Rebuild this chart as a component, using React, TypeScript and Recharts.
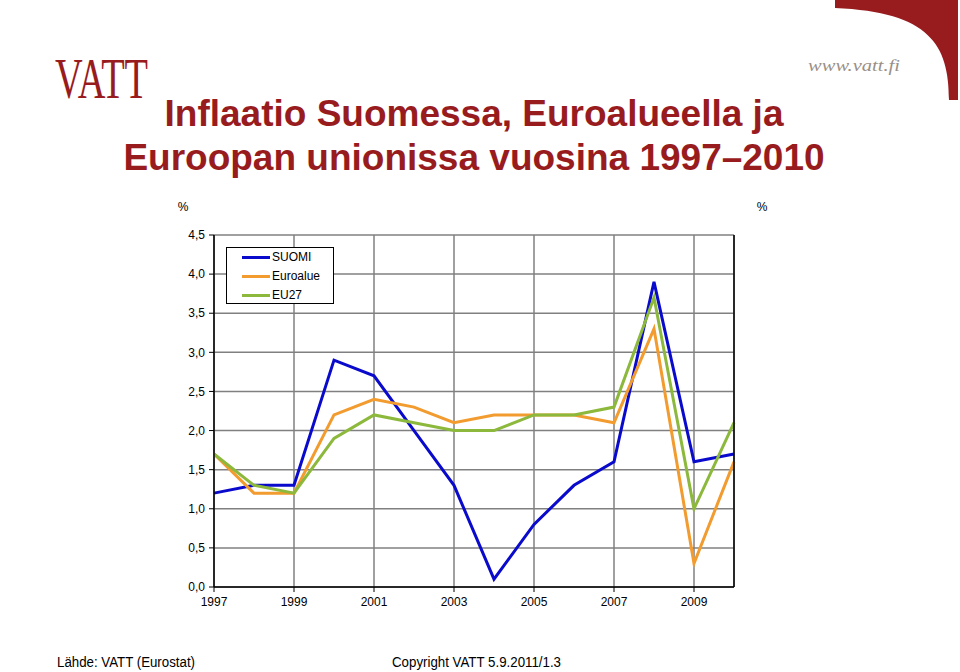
import React from "react";
import { LineChart, Line, XAxis, YAxis, CartesianGrid, Legend } from "recharts";

const years = [1997, 1998, 1999, 2000, 2001, 2002, 2003, 2004, 2005, 2006, 2007, 2008, 2009, 2010];
const suomi = [1.2, 1.3, 1.3, 2.9, 2.7, 2.0, 1.3, 0.1, 0.8, 1.3, 1.6, 3.9, 1.6, 1.7];
const euroalue = [1.7, 1.2, 1.2, 2.2, 2.4, 2.3, 2.1, 2.2, 2.2, 2.2, 2.1, 3.3, 0.3, 1.6];
const eu27 = [1.7, 1.3, 1.2, 1.9, 2.2, 2.1, 2.0, 2.0, 2.2, 2.2, 2.3, 3.7, 1.0, 2.1];
const xTicks = [1997, 1999, 2001, 2003, 2005, 2007, 2009];
const yTicks = [0, 0.5, 1, 1.5, 2, 2.5, 3, 3.5, 4, 4.5];

const seriesNames = ["SUOMI", "Euroalue", "EU27"];
const colors = ["#0A0ACC", "#F29B2E", "#8CB83C"];
const RED = "#981B1E";
const FONT = "'Liberation Sans', Arial, sans-serif";

const data = years.map((y, i) => ({ year: y, SUOMI: suomi[i], Euroalue: euroalue[i], EU27: eu27[i] }));

const fmt = (v: number) => v.toFixed(1).replace(".", ",");

const LegendBox = (props: any) => {
  const payload = [...(props.payload || [])].sort(
    (a: any, b: any) => seriesNames.indexOf(a.value) - seriesNames.indexOf(b.value)
  );
  return (
    <div
      style={{
        width: 108,
        height: 57,
        border: "1px solid #000",
        background: "#fff",
        boxSizing: "border-box",
        fontFamily: FONT,
        fontSize: 12,
        paddingTop: 0,
      }}
    >
      {payload.map((p: any) => (
        <div key={p.value} style={{ display: "flex", alignItems: "center", height: 19 }}>
          <div style={{ width: 28, height: 3, background: p.color, marginLeft: 15, marginRight: 2 }} />
          <span style={{ color: "#000", lineHeight: "19px" }}>{p.value}</span>
        </div>
      ))}
    </div>
  );
};

export default function App() {
  return (
    <div style={{ position: "absolute", left: 0, top: 0, width: 960, height: 672, background: "#fff", overflow: "hidden" }}>
      <LineChart
        width={960}
        height={672}
        data={data}
        margin={{ top: 235, right: 0, bottom: 55, left: 0 }}
      >
        <CartesianGrid yAxisId="l" stroke="#808080" strokeWidth={1.5} />
        <XAxis
          dataKey="year"
          type="number"
          domain={[1997, 2010]}
          ticks={xTicks}
          interval={0}
          height={30}
          axisLine={{ stroke: "#000", strokeWidth: 1.5 }}
          tickLine={{ stroke: "#000" }}
          tickSize={5}
          tickMargin={5}
          tick={{ fill: "#000", fontSize: 12, fontFamily: FONT }}
        />
        <YAxis
          yAxisId="l"
          orientation="left"
          width={214}
          domain={[0, 4.5]}
          ticks={yTicks}
          interval={0}
          tickFormatter={fmt}
          axisLine={{ stroke: "#000", strokeWidth: 1.5 }}
          tickLine={{ stroke: "#000" }}
          tickSize={5}
          tickMargin={4}
          tick={{ fill: "#000", fontSize: 12, fontFamily: FONT }}
        />
        <YAxis
          yAxisId="r"
          orientation="right"
          width={226}
          domain={[0, 4.5]}
          ticks={yTicks}
          interval={0}
          tickFormatter={fmt}
          axisLine={{ stroke: "#000", strokeWidth: 1.5 }}
          tickLine={{ stroke: "#000" }}
          tickSize={4}
          tickMargin={3}
          tick={{ fill: "#000", fontSize: 12, fontFamily: FONT }}
        />
        <Legend
          layout="horizontal"
          verticalAlign="middle"
          align="center"
          content={<LegendBox />}
          wrapperStyle={{ position: "absolute", left: 226, top: 247, width: 108, height: 57 }}
        />
        {seriesNames.map((n, i) => (
          <Line
            key={n}
            yAxisId="l"
            dataKey={n}
            name={n}
            stroke={colors[i]}
            strokeWidth={3}
            dot={false}
            activeDot={false}
            type="linear"
            isAnimationActive={false}
          />
        ))}
      </LineChart>
      <svg
        width={960}
        height={672}
        style={{ position: "absolute", left: 0, top: 0, pointerEvents: "none" }}
      >
        <path d="M835,0 L958,0 L958,100 L949,100 C949,45 930,12 835,8 Z" fill={RED} />
        <text x={808} y={71} fontFamily="'Liberation Serif', serif" fontStyle="italic" fontSize={17} fill="#9A8F86" textLength={92} lengthAdjust="spacingAndGlyphs">
          www.vatt.fi
        </text>
        <text x={55} y={98} fontFamily="'Liberation Serif', serif" fontSize={56} fill={RED} textLength={93} lengthAdjust="spacingAndGlyphs">
          VATT
        </text>
        <text x={474} y={125.5} textAnchor="middle" fontFamily={FONT} fontWeight="bold" fontSize={37} fill={RED}>
          Inflaatio Suomessa, Euroalueella ja
        </text>
        <text x={474} y={170} textAnchor="middle" fontFamily={FONT} fontWeight="bold" fontSize={37} fill={RED}>
          Euroopan unionissa vuosina 1997–2010
        </text>
        <text x={183} y={211} textAnchor="middle" fontFamily={FONT} fontSize={12} fill="#000">%</text>
        <text x={762} y={211} textAnchor="middle" fontFamily={FONT} fontSize={12} fill="#000">%</text>
        <text x={57} y={667} fontFamily={FONT} fontSize={14} fill="#000" textLength={138} lengthAdjust="spacingAndGlyphs">
          Lähde: VATT (Eurostat)
        </text>
        <text x={392} y={667} fontFamily={FONT} fontSize={14} fill="#000" textLength={169} lengthAdjust="spacingAndGlyphs">
          Copyright VATT 5.9.2011/1.3
        </text>
      </svg>
    </div>
  );
}
